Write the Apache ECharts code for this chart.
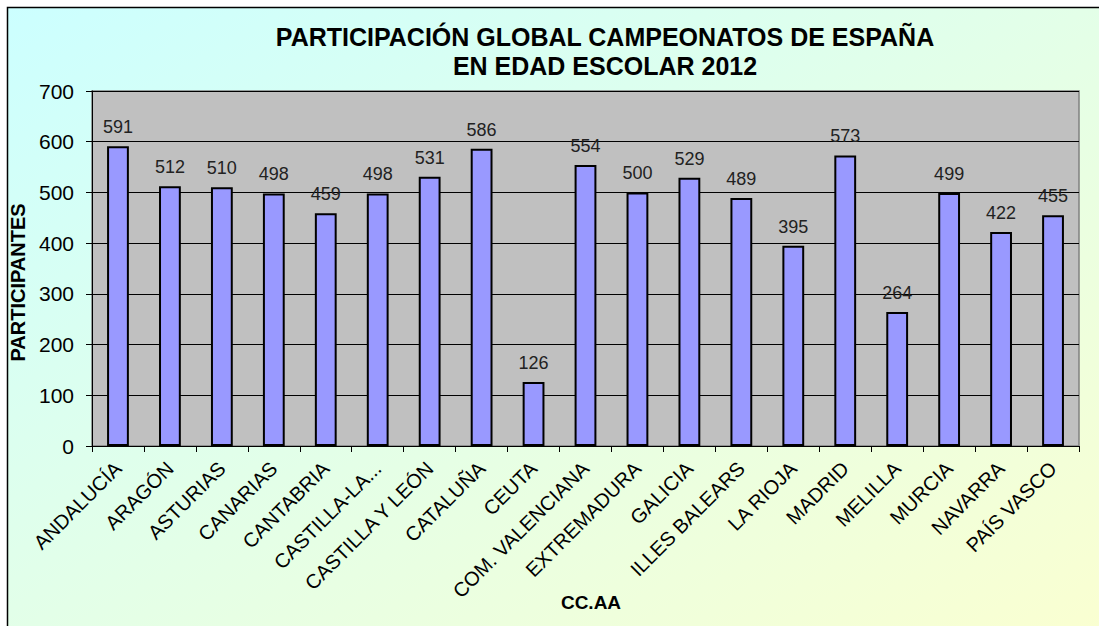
<!DOCTYPE html>
<html>
<head>
<meta charset="utf-8">
<script src="https://cdn.jsdelivr.net/npm/echarts@6/dist/echarts.min.js"></script>
<style>
  html, body { margin: 0; padding: 0; background: #fff; }
  #chart { width: 1099px; height: 626px; }
</style>
</head>
<body>
<div id="chart"></div>
<script>
const categories = [
  "ANDALUCÍA", "ARAGÓN", "ASTURIAS", "CANARIAS", "CANTABRIA", "CASTILLA-LA...",
  "CASTILLA Y LEÓN", "CATALUÑA", "CEUTA", "COM. VALENCIANA", "EXTREMADURA",
  "GALICIA", "ILLES BALEARS", "LA RIOJA", "MADRID", "MELILLA", "MURCIA",
  "NAVARRA", "PAÍS VASCO"
];
const participantes = [591, 512, 510, 498, 459, 498, 531, 586, 126, 554, 500, 529, 489, 395, 573, 264, 499, 422, 455];
const yTicks = [0, 100, 200, 300, 400, 500, 600, 700];

const font = "'Liberation Sans', Arial, sans-serif";
const chart = echarts.init(document.getElementById("chart"), null, { renderer: "svg" });

chart.setOption({
  animation: false,
  graphic: [
    {
      type: "rect",
      z: -10,
      silent: true,
      shape: { x: 7.5, y: 7.5, width: 1200, height: 700 },
      style: {
        fill: new echarts.graphic.LinearGradient(0, 0, 1, 1, [
          { offset: 0, color: "#ccffff" },
          { offset: 1, color: "#ffffcc" },
        ]),
        stroke: "#000",
        lineWidth: 1.5,
      },
    },
    {
      // x axis title, placed by hand so it sits between the rotated labels
      type: "text",
      x: 591,
      y: 602,
      style: {
        text: "CC.AA",
        fontFamily: font,
        fontSize: 19,
        fontWeight: "bold",
        fill: "#000",
        align: "center",
        verticalAlign: "middle",
      },
    },
  ],
  title: {
    text: "PARTICIPACIÓN GLOBAL CAMPEONATOS DE ESPAÑA\nEN EDAD ESCOLAR 2012",
    left: 600,
    textAlign: "center",
    top: 17,
    textStyle: {
      fontFamily: font,
      fontSize: 25,
      fontWeight: "bold",
      color: "#000",
      lineHeight: 29,
    },
  },
  grid: {
    left: 92,
    right: 20,
    top: 91,
    bottom: 180,
    outerBoundsMode: "none",
    show: true,
    backgroundColor: "#c0c0c0",
    borderColor: "#808080",
    borderWidth: 1.5,
  },
  xAxis: {
    type: "category",
    data: categories,
    boundaryGap: true,
    axisLine: { lineStyle: { color: "#000", width: 1 } },
    axisTick: { show: true, length: 6, lineStyle: { color: "#000" } },
    axisLabel: {
      interval: 0,
      rotate: 45,
      margin: 19,
      fontFamily: font,
      fontSize: 20,
      color: "#000",
    },
  },
  yAxis: {
    type: "value",
    min: yTicks[0],
    max: yTicks[yTicks.length - 1],
    interval: 100,
    name: "PARTICIPANTES",
    nameLocation: "middle",
    nameRotate: 90,
    nameGap: 51,
    nameTextStyle: {
      fontFamily: font, fontSize: 20, fontWeight: "bold", color: "#000",
      padding: [0, 28, 0, 0],
    },
    axisLine: { show: true, lineStyle: { color: "#000", width: 1 } },
    axisTick: { show: true, length: 6, lineStyle: { color: "#000" } },
    axisLabel: { fontFamily: font, fontSize: 21, color: "#000", margin: 18 },
    splitLine: { show: true, lineStyle: { color: "#000", width: 1 } },
  },
  series: [
    {
      type: "bar",
      data: participantes,
      barWidth: "42%",
      itemStyle: { color: "#9999ff", borderColor: "#000", borderWidth: 2 },
      label: {
        show: true,
        position: "top",
        distance: 10,
        fontFamily: font,
        fontSize: 18,
        color: "#222",
      },
    },
  ],
});
</script>
</body>
</html>
